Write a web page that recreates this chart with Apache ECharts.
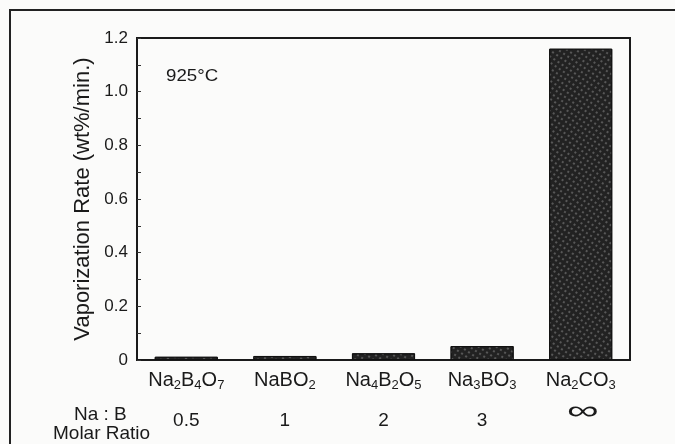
<!DOCTYPE html>
<html><head><meta charset="utf-8">
<script src="https://cdn.jsdelivr.net/npm/echarts@6/dist/echarts.min.js"></script>
<style>html,body{margin:0;padding:0;background:#fbfbfa;}#c{width:675px;height:444px;}</style>
</head><body><div id="c"></div>
<script>
const compounds = ['Na{s|2}B{s|4}O{s|7}', 'NaBO{s|2}', 'Na{s|4}B{s|2}O{s|5}', 'Na{s|3}BO{s|3}', 'Na{s|2}CO{s|3}'];
const molarRatio = ['0.5', '1', '2', '3', '∞'];
const rates = [0.012, 0.015, 0.025, 0.052, 1.16];
const yTicks = [0, 0.2, 0.4, 0.6, 0.8, 1.0, 1.2];

const chart = echarts.init(document.getElementById('c'));
const font = 'Liberation Sans, Arial, sans-serif';
const ink = '#1a1a1a';
chart.setOption({
  backgroundColor: '#fbfbfa',
  animation: false,
  grid: { left: 137, right: 45, top: 38, bottom: 84, show: true, borderColor: ink, borderWidth: 2, backgroundColor: 'transparent' },
  graphic: [
    { type: 'rect', shape: { x: 10, y: 10, width: 700, height: 500 }, style: { fill: 'none', stroke: '#222', lineWidth: 2 } },
    { type: 'text', x: 166, y: 76, scaleX: 1.1, style: { text: '925°C', font: '17px ' + font, fill: ink, textVerticalAlign: 'middle' } },
    { type: 'text', x: 74, y: 415, scaleX: 1.0, style: { text: 'Na : B', font: '19px ' + font, fill: ink, textVerticalAlign: 'middle' } },
    { type: 'text', x: 53, y: 434, scaleX: 1.0, style: { text: 'Molar Ratio', font: '19px ' + font, fill: ink, textVerticalAlign: 'middle' } }
  ],
  xAxis: [
    {
      type: 'category', data: compounds, position: 'bottom',
      axisLine: { lineStyle: { color: ink, width: 2 } },
      axisTick: { show: false },
      axisLabel: {
        interval: 0, margin: 9, fontSize: 20, fontFamily: font, color: ink,
        rich: { s: { fontSize: 13, fontFamily: font, color: ink, verticalAlign: 'bottom', padding: [10, 0, 0, 0] } }
      }
    },
    {
      type: 'category', data: molarRatio, position: 'bottom', offset: 43,
      axisLine: { show: false }, axisTick: { show: false },
      axisLabel: {
        interval: 0, fontSize: 19, fontFamily: font, color: ink,
        formatter: v => v === '∞' ? '' : v
      }
    }
  ],
  yAxis: {
    type: 'value', min: 0, max: 1.2, interval: 0.2,
    name: 'Vaporization Rate (wt%/min.)', nameLocation: 'middle', nameGap: 33,
    nameTextStyle: { fontSize: 22, fontFamily: font, color: ink },
    axisLine: { show: true, lineStyle: { color: ink, width: 2 } },
    axisTick: { show: true, inside: true, length: 4, lineStyle: { color: '#333' } },
    minorTick: { show: true, splitNumber: 2, length: 4, lineStyle: { color: '#333' } },
    splitLine: { show: false },
    axisLabel: {
      fontSize: 17, fontFamily: font, color: ink, margin: 9,
      formatter: v => { const t = yTicks.find(x => Math.abs(x - v) < 1e-9); return t === 0 ? '0' : t.toFixed(1); }
    }
  },
  series: [{
    type: 'bar', data: rates, barWidth: '64%', xAxisIndex: 0,
    itemStyle: {
      color: '#222', borderColor: '#111', borderWidth: 1,
      decal: { symbol: 'circle', symbolSize: 0.7, color: 'rgba(230,230,230,0.75)', dashArrayX: [2, 3], dashArrayY: [2, 3], rotation: 0.6 }
    }
  }]
});
// place the wide infinity sign under its category, using the axis scale
const infIdx = molarRatio.indexOf('∞');
const px = chart.convertToPixel({ xAxisIndex: 1 }, molarRatio[infIdx]);
const gh = chart.getHeight();
chart.setOption({
  graphic: [
    { type: 'rect', shape: { x: 10, y: 10, width: 700, height: 500 }, style: { fill: 'none', stroke: '#222', lineWidth: 2 } },
    { type: 'text', x: 166, y: 76, scaleX: 1.1, style: { text: '925°C', font: '17px ' + font, fill: ink, textVerticalAlign: 'middle' } },
    { type: 'text', x: 74, y: 415, style: { text: 'Na : B', font: '19px ' + font, fill: ink, textVerticalAlign: 'middle' } },
    { type: 'text', x: 53, y: 434, style: { text: 'Molar Ratio', font: '19px ' + font, fill: ink, textVerticalAlign: 'middle' } },
    { type: 'text', x: px + 2, y: gh - 32, scaleX: 1.7, scaleY: 1.0, style: { text: '∞', font: '26px ' + font, fill: ink, textAlign: 'center', textVerticalAlign: 'middle' } }
  ]
}, { replaceMerge: ['graphic'] });
</script></body></html>
